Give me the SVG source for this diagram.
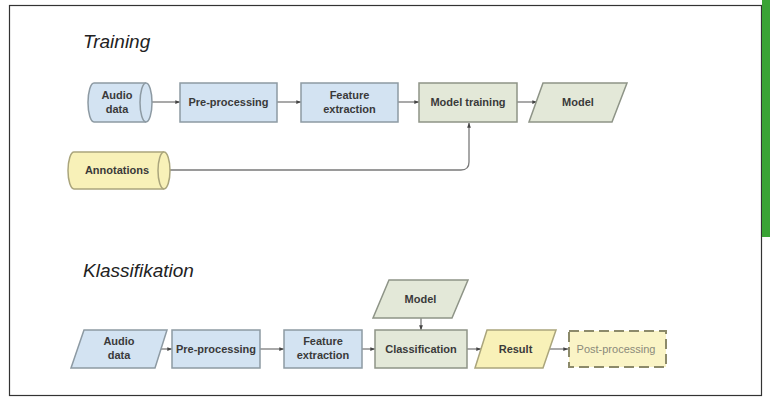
<svg xmlns="http://www.w3.org/2000/svg" width="770" height="397" viewBox="0 0 770 397">
  <defs>
    <marker id="arr" viewBox="0 0 8 8" refX="7.5" refY="4" markerWidth="5" markerHeight="5" orient="auto" markerUnits="userSpaceOnUse">
      <path d="M0,1 L8,4 L0,7 z" fill="#444"/>
    </marker>
  </defs>
  <style>
    .blue { fill: #d3e3f2; stroke: #8d9aa3; stroke-width: 1.5; }
    .green { fill: #e3e8d8; stroke: #8e9487; stroke-width: 1.5; }
    .yellow { fill: #f8f1b8; stroke: #aaa57c; stroke-width: 1.5; }
    .post { fill: #faf4c6; stroke: #8c8a6a; stroke-width: 2; stroke-dasharray: 10 5; }
    .lbl { font-family: "Liberation Sans", Arial, sans-serif; font-size: 11px; font-weight: bold; fill: #3a3a3a; text-anchor: middle; }
    .faint { fill: #8a8a7a; font-weight: normal; }
    .title { font-family: "Liberation Sans", Arial, sans-serif; font-size: 19px; font-style: italic; fill: #222; }
    .conn { fill: none; stroke: #7a7a7a; stroke-width: 1.3; }
  </style>

  <!-- frame and side bar -->
  <rect x="0" y="0" width="770" height="397" fill="#ffffff"/>
  <rect x="9.5" y="5.5" width="752" height="390" fill="none" stroke="#333" stroke-width="1.2"/>
  <rect x="762" y="0" width="8" height="237" fill="#3aa335"/>

  <text class="title" x="83" y="48">Training</text>
  <text class="title" x="83" y="277">Klassifikation</text>

  <!-- connectors -->
  <g id="connectors">
    <line class="conn" x1="148" y1="102" x2="180" y2="102" marker-end="url(#arr)"/>
    <line class="conn" x1="277" y1="102" x2="301" y2="102" marker-end="url(#arr)"/>
    <line class="conn" x1="398" y1="102" x2="419" y2="102" marker-end="url(#arr)"/>
    <line class="conn" x1="517" y1="102" x2="537" y2="102" marker-end="url(#arr)"/>
    <path class="conn" d="M166,170 H461 Q469,170 469,162 V123" marker-end="url(#arr)"/>

    <line class="conn" x1="161" y1="349" x2="172" y2="349" marker-end="url(#arr)"/>
    <line class="conn" x1="260" y1="349" x2="284" y2="349" marker-end="url(#arr)"/>
    <line class="conn" x1="362" y1="349" x2="375" y2="349" marker-end="url(#arr)"/>
    <line class="conn" x1="421" y1="318" x2="421" y2="330" marker-end="url(#arr)"/>
    <line class="conn" x1="467" y1="349" x2="481" y2="349" marker-end="url(#arr)"/>
    <line class="conn" x1="549" y1="349" x2="568" y2="349" marker-end="url(#arr)"/>
  </g>

  <!-- training row -->
  <g id="t-audio">
    <path class="blue" d="M94,83 H146 A6,19.5 0 0 1 146,122 H94 A6,19.5 0 0 1 94,83 z"/>
    <path class="blue" d="M146,83 A6,19.5 0 0 0 146,122" fill="none"/>
    <text class="lbl" x="117" y="99">Audio</text>
    <text class="lbl" x="117" y="113">data</text>
  </g>
  <g id="t-pre">
    <rect class="blue" x="180" y="83" width="97" height="39"/>
    <text class="lbl" x="228.5" y="106">Pre-processing</text>
  </g>
  <g id="t-feat">
    <rect class="blue" x="301" y="83" width="97" height="39"/>
    <text class="lbl" x="349.5" y="99">Feature</text>
    <text class="lbl" x="349.5" y="113">extraction</text>
  </g>
  <g id="t-train">
    <rect class="green" x="419" y="83" width="98" height="39"/>
    <text class="lbl" x="468" y="106">Model training</text>
  </g>
  <g id="t-model">
    <polygon class="green" points="543,83 627,83 612,122 529,122"/>
    <text class="lbl" x="578" y="106">Model</text>
  </g>
  <g id="t-annot">
    <path class="yellow" d="M74,152 H164 A6,18.5 0 0 1 164,189 H74 A6,18.5 0 0 1 74,152 z"/>
    <path class="yellow" d="M164,152 A6,18.5 0 0 0 164,189" fill="none"/>
    <text class="lbl" x="117" y="174">Annotations</text>
  </g>

  <!-- classification row -->
  <g id="c-audio">
    <polygon class="blue" points="84,330 167,330 155,368 71,368"/>
    <text class="lbl" x="119" y="345">Audio</text>
    <text class="lbl" x="119" y="359">data</text>
  </g>
  <g id="c-pre">
    <rect class="blue" x="172" y="330" width="88" height="38"/>
    <text class="lbl" x="216" y="353">Pre-processing</text>
  </g>
  <g id="c-feat">
    <rect class="blue" x="284" y="330" width="78" height="38"/>
    <text class="lbl" x="323" y="345">Feature</text>
    <text class="lbl" x="323" y="359">extraction</text>
  </g>
  <g id="c-model">
    <polygon class="green" points="389,280 468,280 452,318 373,318"/>
    <text class="lbl" x="420.5" y="303">Model</text>
  </g>
  <g id="c-class">
    <rect class="green" x="375" y="330" width="92" height="38"/>
    <text class="lbl" x="421" y="353">Classification</text>
  </g>
  <g id="c-result">
    <polygon class="yellow" points="487,330 556,330 543,368 475,368"/>
    <text class="lbl" x="515.5" y="353">Result</text>
  </g>
  <g id="c-post">
    <rect class="post" x="569" y="331" width="97" height="36"/>
    <text class="lbl faint" x="616" y="353">Post-processing</text>
  </g>
</svg>
